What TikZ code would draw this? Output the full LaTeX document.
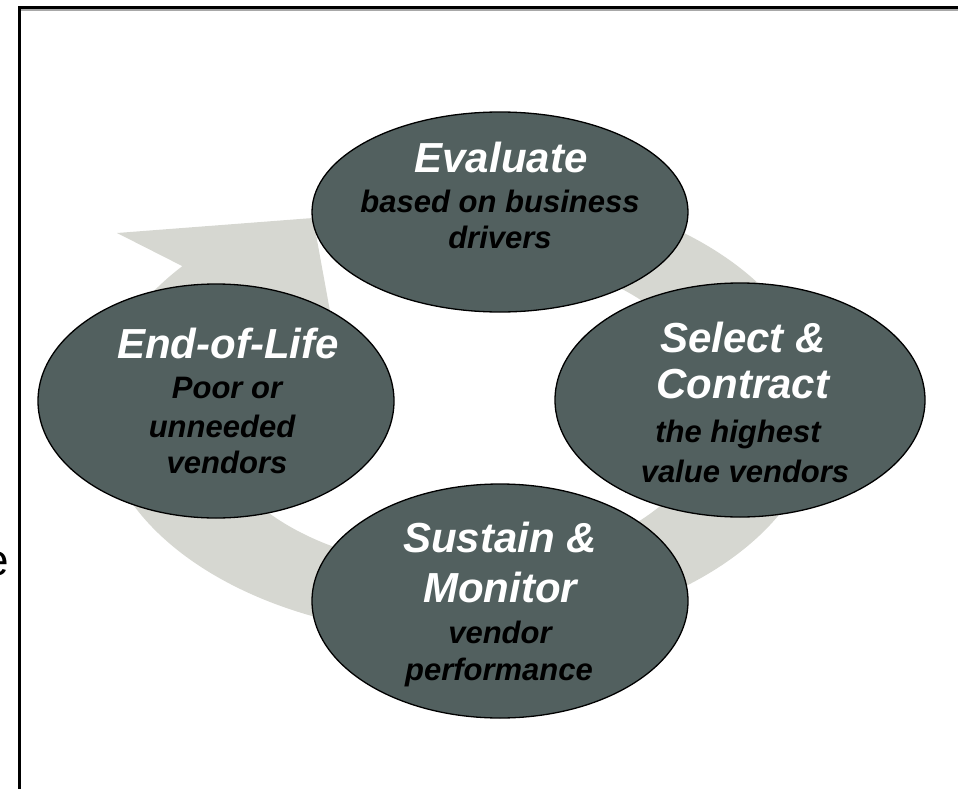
\documentclass[tikz,border=0pt]{standalone}
\usepackage{fontspec}
\setmainfont{Liberation Sans}
\usetikzlibrary{shapes.geometric}

\definecolor{stagefill}{HTML}{52605F}
\definecolor{ringgray}{HTML}{D6D7D1}
\definecolor{framegray}{HTML}{A8A8A8}
\newcommand{\ttlfont}{\fontsize{42}{46}\selectfont\bfseries\itshape}
\newcommand{\subfont}{\fontsize{31}{37}\selectfont\bfseries\itshape}
\tikzset{
  stage/.style={ellipse, draw=black, line width=1.3pt, fill=stagefill, inner sep=0pt},
  ttl/.style={font=\ttlfont, text=white, anchor=base, inner sep=0pt},
  sub/.style={font=\subfont, text=black, anchor=base, inner sep=0pt},
}

\begin{document}
\begin{tikzpicture}[x=1pt,y=-1pt]
  \useasboundingbox (0,0) rectangle (958,789);
  % frame
  \draw[framegray, line width=1.6pt] (20.8,10.2) -- (970,10.2);
  \draw[line width=3.2pt] (19.2,800) -- (19.2,7.7) -- (970,7.7);
  \node[font=\fontsize{44}{44}\selectfont, anchor=base east, inner sep=0pt] (cut) at (9,575) {e};
  % cycle arrow behind the stages
  \fill[ringgray] (460,410) ++(290:360 and 226)
    arc[start angle=290, end angle=582, x radius=360, y radius=226]
    -- (272.7,304.3)
    arc[start angle=582, end angle=290, x radius=252, y radius=158] -- cycle;
  \fill[ringgray] (117,233) -- (313,218) -- (336,344) -- cycle;
  % stages
  \node[stage, minimum width=376pt, minimum height=200pt] (eval) at (500,212) {};
  \node[stage, minimum width=356pt, minimum height=234pt] (eol) at (216,401) {};
  \node[stage, minimum width=370pt, minimum height=234pt] (select) at (740,400) {};
  \node[stage, minimum width=376pt, minimum height=234pt] (sustain) at (500,601) {};
  % texts
  \node[ttl] (evalT) at (501,172) {Evaluate};
  \node[sub] (evalA) at (500,212) {based on business};
  \node[sub] (evalB) at (500,248) {drivers};
  \node[ttl] (eolT) at (228,358) {End-of-Life};
  \node[sub] (eolA) at (227,398) {Poor or};
  \node[sub] (eolB) at (222,437) {unneeded};
  \node[sub] (eolC) at (227,473) {vendors};
  \node[ttl] (selectT) at (743,352) {Select \&};
  \node[ttl] (selectU) at (743,398) {Contract};
  \node[sub] (selectA) at (738,442) {the highest};
  \node[sub] (selectB) at (745,482) {value vendors};
  \node[ttl] (sustainT) at (500,552) {Sustain \&};
  \node[ttl] (sustainU) at (500,602) {Monitor};
  \node[sub] (sustainA) at (500,643) {vendor};
  \node[sub] (sustainB) at (499,680) {performance};
\end{tikzpicture}
\end{document}
